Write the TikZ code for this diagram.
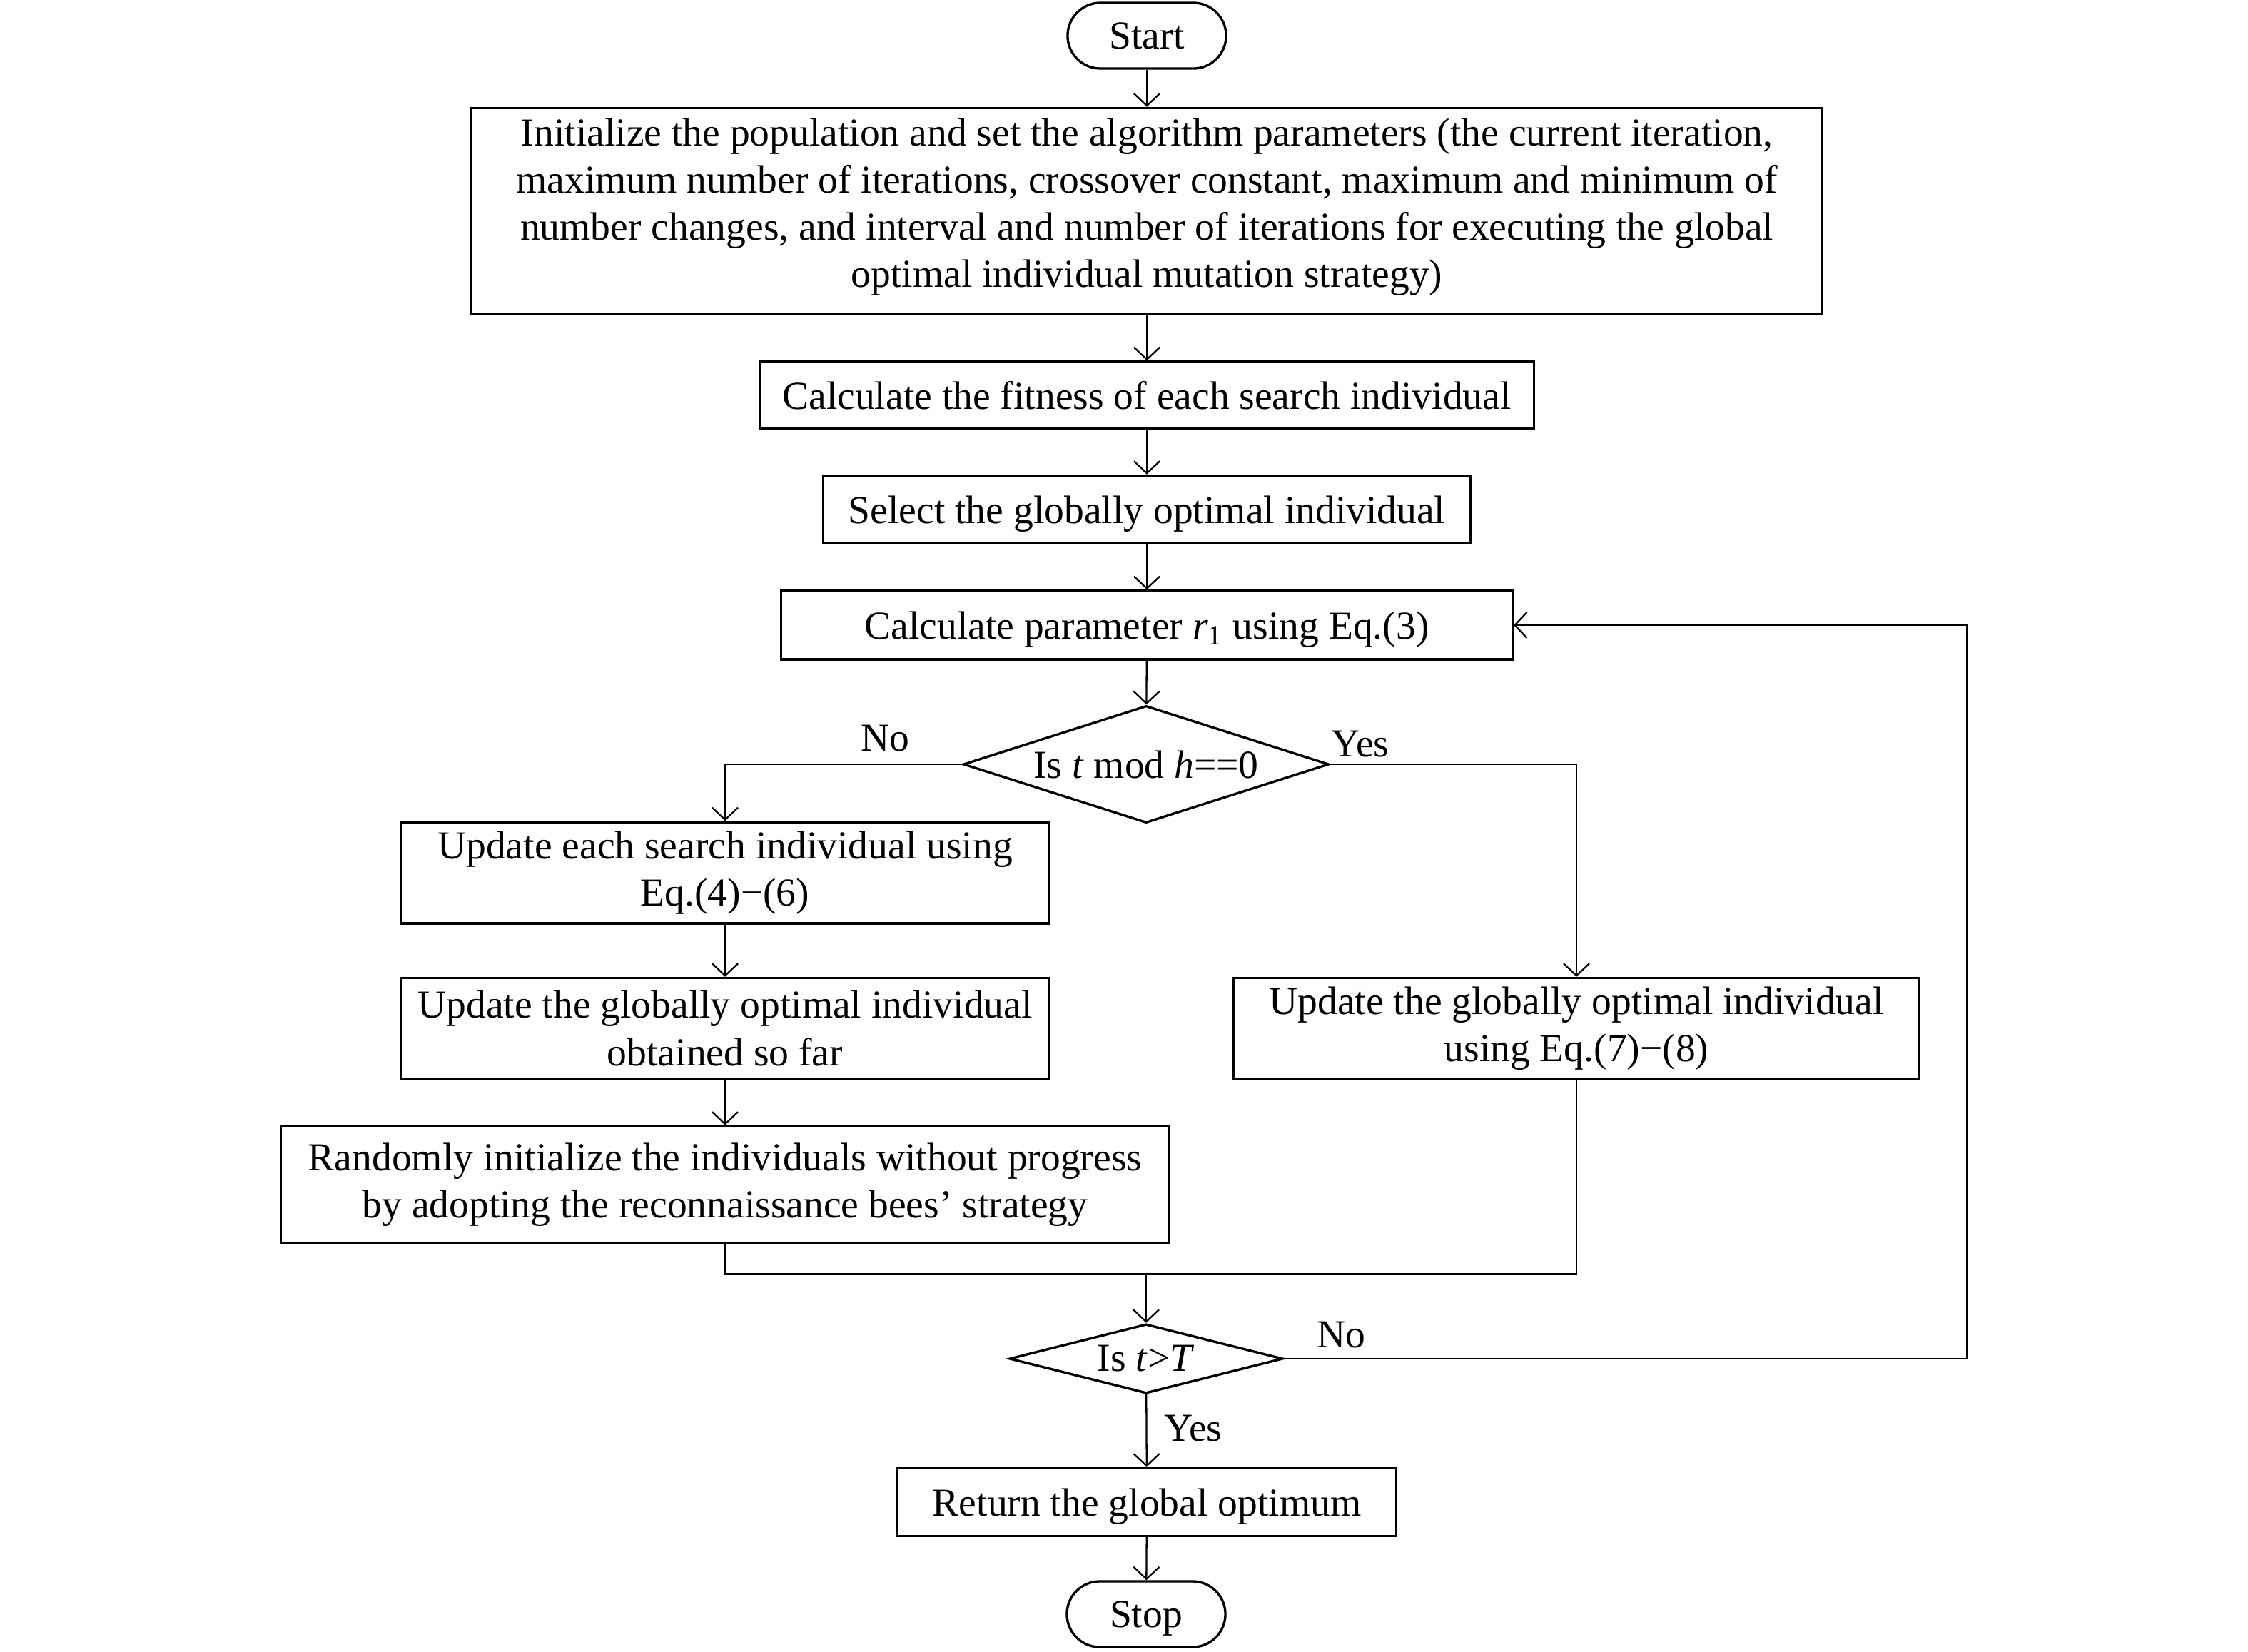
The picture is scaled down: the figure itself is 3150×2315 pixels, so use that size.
\documentclass[tikz,border=0pt]{standalone}
\usepackage{fontspec}
\setmainfont{Liberation Serif}
\usetikzlibrary{shapes.geometric,arrows.meta,calc}
\tikzset{
  txt/.style={font=\fontsize{15.8pt}{18.8pt}\selectfont, align=center, inner sep=0pt},
  procbox/.style={txt, draw, line width=0.95pt, rectangle},
  oneline/.style={text depth=0pt},
  termbox/.style={txt, draw, line width=0.95pt, rectangle, rounded corners=0.46cm, minimum width=2.22cm, minimum height=0.92cm, text depth=0pt},
  decbox/.style={txt, draw, line width=0.95pt, diamond},
  conn/.style={line width=0.65pt, -{Straight Barb[length=0.17cm,width=0.36cm]}},
  plain/.style={line width=0.65pt},
  lbl/.style={txt}
}
\begin{document}
\begin{tikzpicture}[x=0.01cm,y=-0.01cm]
\path[use as bounding box] (0,0) rectangle (3150,2315);
\node[termbox] (start) at (1607,50) {Start};
\node[procbox, minimum width=18.92cm, minimum height=2.89cm, text depth=6.8pt] (init) at (1607,296)
 {Initialize the population and set the algorithm parameters (the current iteration,\\
  maximum number of iterations, crossover constant, maximum and minimum of\\
  number changes, and interval and number of iterations for executing the global\\
  optimal individual mutation strategy)};
\node[procbox, oneline, minimum width=10.84cm, minimum height=0.94cm] (fit) at (1607,554) {Calculate the fitness of each search individual};
\node[procbox, oneline, minimum width=9.06cm, minimum height=0.95cm] (sel) at (1607,714) {Select the globally optimal individual};
\node[procbox, oneline, minimum width=10.24cm, minimum height=0.96cm] (par) at (1607,876) {Calculate parameter \textit{r}\textsubscript{1} using Eq.(3)};
\node[decbox, shape aspect=3.1, minimum width=5.12cm, minimum height=1.64cm] (d1) at (1606,1071) {Is \textit{t} mod \textit{h}==0};
\node[procbox, minimum width=9.06cm, minimum height=1.42cm] (upd) at (1016,1223) {Update each search individual using\\Eq.(4)−(6)};
\node[procbox, minimum width=9.06cm, minimum height=1.41cm] (ugo) at (1016,1441) {Update the globally optimal individual\\obtained so far};
\node[procbox, minimum width=12.44cm, minimum height=1.63cm] (rnd) at (1016,1660) {Randomly initialize the individuals without progress\\by adopting the reconnaissance bees’ strategy};
\node[procbox, minimum width=9.60cm, minimum height=1.41cm] (mut) at (2209,1441) {Update the globally optimal individual\\using Eq.(7)−(8)};
\node[decbox, shape aspect=3.95, minimum width=3.83cm, minimum height=0.97cm] (d2) at (1606,1904) {Is \textit{t}>\textit{T}};
\node[procbox, oneline, minimum width=6.98cm, minimum height=0.95cm] (ret) at (1607,2105) {Return the global optimum};
\node[termbox] (stop) at (1606,2262) {Stop};
\coordinate (m) at (1606,1785);
\coordinate (loop) at (2756,876);
\node[lbl] (no1) at (1240,1035) {No};
\node[lbl] (yes1) at (1906,1043) {Yes};
\node[lbl] (no2) at (1879,1871) {No};
\node[lbl] (yes2) at (1672,2002) {Yes};
\draw[conn] (start) -- (init);
\draw[conn] (init) -- (fit);
\draw[conn] (fit) -- (sel);
\draw[conn] (sel) -- (par);
\draw[conn] (par) -- (d1);
\draw[conn] (d1.west) -| (upd.north);
\draw[conn] (d1.east) -| (mut.north);
\draw[conn] (upd) -- (ugo);
\draw[conn] (ugo) -- (rnd);
\draw[plain] (rnd.south) |- (mut.south |- m) -- (mut.south);
\draw[conn] (m) -- (d2.north);
\draw[conn] (d2.east) -| (loop) -- (par.east);
\draw[conn] (d2) -- (ret);
\draw[conn] (ret) -- (stop);
\end{tikzpicture}
\end{document}
